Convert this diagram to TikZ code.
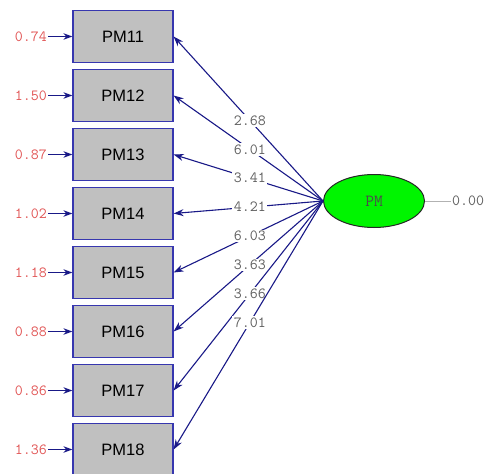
\documentclass[tikz,border=0pt]{standalone}
\usepackage{fontspec}
\setmainfont{Liberation Sans}
\usetikzlibrary{arrows.meta,shapes.geometric}
\definecolor{pathblue}{RGB}{25,25,135}
\definecolor{boxline}{RGB}{55,55,175}
\definecolor{boxfill}{RGB}{192,192,192}
\definecolor{errred}{RGB}{225,85,85}
\definecolor{lblgray}{RGB}{95,95,95}
\definecolor{latgreen}{RGB}{0,245,0}
\tikzset{
  obsbox/.style={draw=boxline, line width=1.2pt, fill=boxfill, minimum width=100pt, minimum height=52pt, inner sep=0pt, font=\fontsize{16.5}{16.5}\selectfont},
  latent/.style={ellipse, draw=black!85, line width=1pt, fill=latgreen, minimum width=101pt, minimum height=53pt, inner sep=0pt, font=\ttfamily\fontsize{17}{17}\selectfont, text=black!70},
  loadline/.style={draw=pathblue, line width=1.1pt, -{Stealth[length=10pt,width=7pt]}},
  errline/.style={draw=pathblue, line width=1.4pt, -{Stealth[length=9pt,width=6.5pt]}},
  errlbl/.style={anchor=east, inner sep=1pt, text=errred, font=\ttfamily\fontsize{15.5}{15.5}\selectfont},
  loadlbl/.style={fill=white, inner sep=1.5pt, text=lblgray, font=\ttfamily\fontsize{15.5}{15.5}\selectfont},
  varlbl/.style={anchor=west, inner sep=1pt, text=lblgray, font=\ttfamily\fontsize{15.5}{15.5}\selectfont},
}
\begin{document}
\begin{tikzpicture}[x=1pt,y=-1pt]
\useasboundingbox (0,0) rectangle (486,473);
\node[latent] (pm) at (374,201) {PM};
\coordinate (pmr) at (451,201);
\draw[draw=black!30, line width=0.8pt] (pm.east) -- (pmr);
\node[varlbl] (v0) at (pmr) {0.00};
\foreach \i/\e/\l [count=\k from 0] in {11/0.74/2.68,12/1.50/6.01,13/0.87/3.41,14/1.02/4.21,15/1.18/6.03,16/0.88/3.63,17/0.86/3.66,18/1.36/7.01}{
  \node[obsbox] (b\i) at (123,{36.5+59*\k}) {PM\i};
  \coordinate (e\i) at (48,{36.5+59*\k});
  \draw[errline] (e\i) -- (b\i.west);
  \node[errlbl] (el\i) at (e\i) {\e};
  \draw[loadline] (pm.west) -- node[loadlbl, pos=0.49] (ll\i) {\l} (b\i.east);
}
\end{tikzpicture}
\end{document}
